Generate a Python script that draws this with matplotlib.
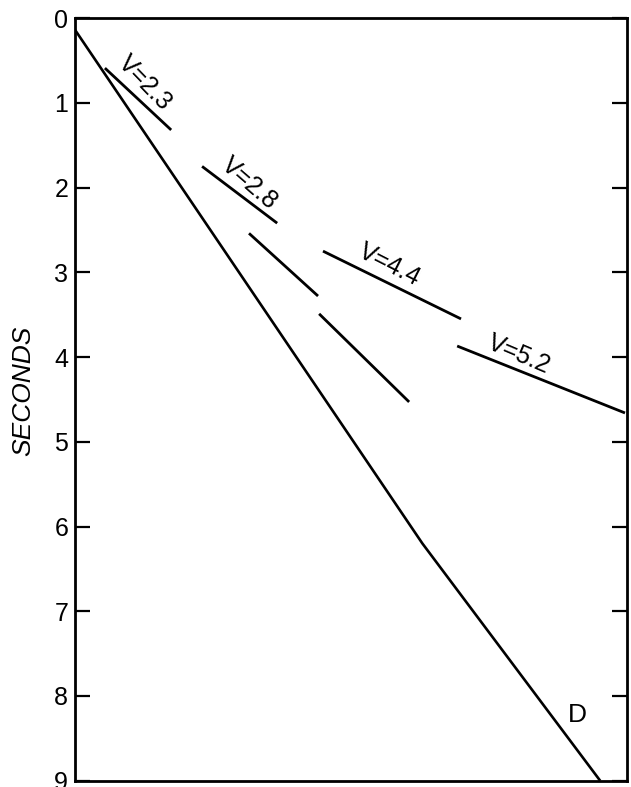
import matplotlib
matplotlib.use("Agg")
import matplotlib.pyplot as plt

plt.rcParams['font.family'] = ['Liberation Sans', 'DejaVu Sans']

# Travel-time branch D (distance units arbitrary, time in seconds)
d_x = [0.0, 62.9, 95.1]
d_t = [0.14, 6.20, 9.0]

# Velocity segments: (x0, x1), (t0, t1)
seg_names = ["V=2.3", "V=2.8", "", "", "V=4.4", "V=5.2"]
seg_x = [(5.4, 17.4), (23.0, 36.6), (31.5, 44.0), (44.2, 60.5), (44.9, 69.9), (69.2, 99.6)]
seg_t = [(0.59, 1.32), (1.75, 2.42), (2.54, 3.28), (3.49, 4.53), (2.75, 3.55), (3.87, 4.66)]

# Label positions and rotation
label_text = ["V=2.3", "V=2.8", "V=4.4", "V=5.2", "D"]
label_x = [12.6, 31.6, 56.9, 80.4, 90.9]
label_t = [0.76, 1.95, 2.91, 3.97, 8.23]
label_rot = [-46, -41, -27, -23, 0]
label_size = [18, 18, 18, 18, 19]

yticks = [0, 1, 2, 3, 4, 5, 6, 7, 8, 9]

fig = plt.figure(figsize=(6.31, 7.87), dpi=100)
ax = fig.add_axes([0.119, 0.008, 0.875, 0.969])

ax.plot(d_x, d_t, color='black', lw=1.9, solid_capstyle='butt')
for xs, ts in zip(seg_x, seg_t):
    ax.plot(xs, ts, color='black', lw=2.0, solid_capstyle='butt')

for s, x, t, r, fs in zip(label_text, label_x, label_t, label_rot, label_size):
    ax.text(x, t, s, fontsize=fs, rotation=r, ha='center', va='center',
            rotation_mode='anchor', color='black')

ax.set_xlim(0, 100)
ax.set_ylim(9, 0)
ax.set_yticks(yticks)
ax.set_yticklabels([str(v) for v in yticks], fontsize=18)
ax.set_xticks([])
ax.tick_params(axis='y', direction='in', length=11, width=1.6, right=True,
               left=True, pad=5)
for sp in ax.spines.values():
    sp.set_linewidth(2.0)

ax.set_ylabel("SECONDS", fontsize=19, style='italic')
ax.yaxis.set_label_coords(-0.072, 0.511)

fig.savefig("out.png", dpi=100)
